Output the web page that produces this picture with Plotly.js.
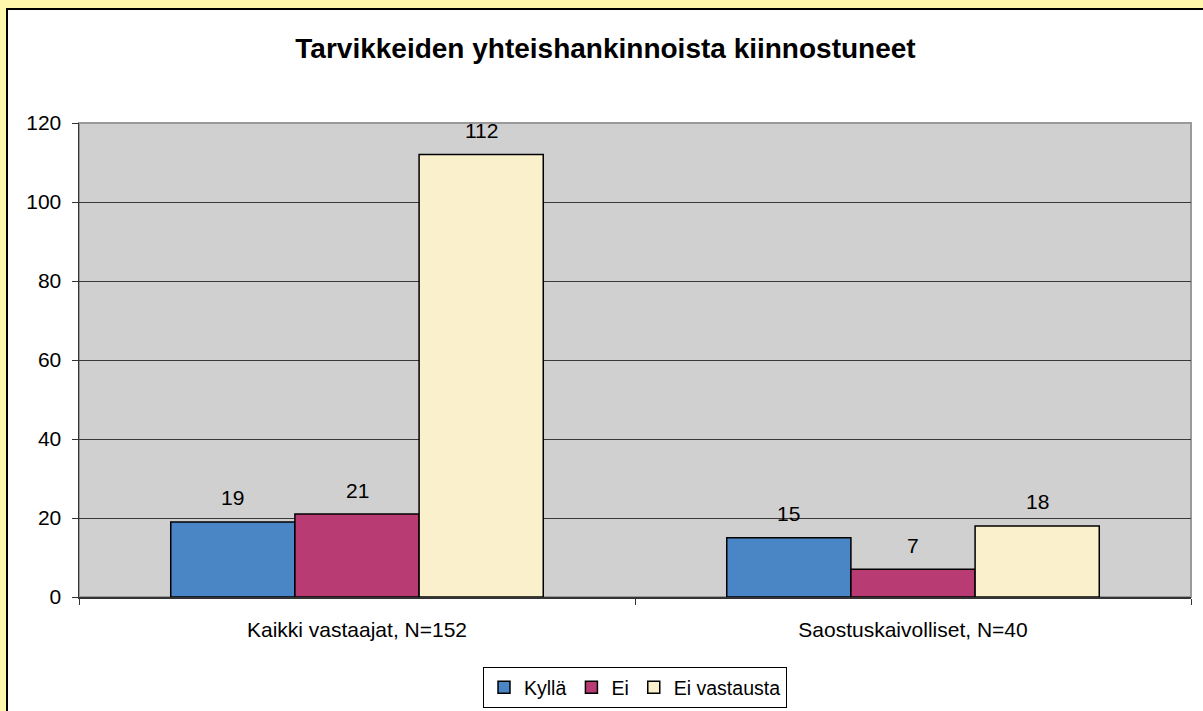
<!DOCTYPE html>
<html>
<head>
<meta charset="utf-8">
<script src="https://cdn.plot.ly/plotly-3.0.1.min.js"></script>
<style>
  html, body { margin: 0; padding: 0; background: #FFF7AC; width: 1203px; height: 711px; overflow: hidden; }
  #frame { position: absolute; left: 6px; top: 8px; width: 1197px; height: 703px;
           border-left: 2px solid #000; border-top: 2px solid #000; background: #fff; box-sizing: border-box; }
  #chart { position: absolute; left: 0; top: 0; width: 1195px; height: 701px; }
</style>
</head>
<body>
<div id="frame"><div id="chart"></div></div>
<script>
const categories = ["Kaikki vastaajat, N=152", "Saostuskaivolliset, N=40"];
const seriesNames = ["Kyllä", "Ei", "Ei vastausta"];
const kylla = [19, 15];
const ei = [21, 7];
const eiVastausta = [112, 18];
const seriesValues = [kylla, ei, eiVastausta];
const colors = ["#4A86C6", "#B83B74", "#FAF1CC"];
const yTicks = [0, 20, 40, 60, 80, 100, 120];

const FONT = "Liberation Sans, Arial, sans-serif";
const bargap = 0.33;
const nSeries = seriesValues.length;
const barW = (1 - bargap) / nSeries;

const traces = seriesValues.map((vals, i) => ({
  type: "bar",
  name: seriesNames[i],
  x: categories,
  y: vals,
  marker: { color: colors[i], line: { color: "#000", width: 1.5 } },
  hoverinfo: "skip"
}));

const annotations = [];
seriesValues.forEach((vals, i) => {
  vals.forEach((v, c) => {
    annotations.push({
      xref: "x", yref: "y",
      x: c + (i - (nSeries - 1) / 2) * barW,
      y: v,
      text: String(v),
      showarrow: false,
      yanchor: "middle",
      yshift: 24,
      font: { family: FONT, size: 21, color: "#000" }
    });
  });
});

const layout = {
  width: 1195, height: 701,
  paper_bgcolor: "#fff",
  plot_bgcolor: "#D0D0D0",
  margin: { l: 71, r: 12, t: 113, b: 114, autoexpand: false },
  barmode: "group",
  bargap: bargap,
  bargroupgap: 0,
  title: { text: "<b>Tarvikkeiden yhteishankinnoista kiinnostuneet</b>",
           font: { family: FONT, size: 28, color: "#000" },
           x: 0.5, xanchor: "center", y: 1 - 38 / 701, yanchor: "middle" },
  font: { family: FONT, size: 21, color: "#000" },
  xaxis: {
    type: "category",
    showline: true, linecolor: "#333", linewidth: 1.5,
    ticks: "outside", tickson: "boundaries", ticklen: 6, tickcolor: "#333",
    ticklabelstandoff: 13,
    showgrid: false, zeroline: false, automargin: false,
    tickfont: { family: FONT, size: 21, color: "#000" }
  },
  yaxis: {
    range: [0, 120],
    tickvals: yTicks,
    ticktext: yTicks.map(String),
    showline: true, linecolor: "#333", linewidth: 1.5,
    ticks: "outside", ticklen: 6, tickcolor: "#333",
    ticklabelstandoff: 6,
    showgrid: true, gridcolor: "#3a3a3a", gridwidth: 1,
    zeroline: false, automargin: false,
    tickfont: { family: FONT, size: 21, color: "#000" }
  },
  showlegend: true,
  legend: {
    orientation: "h",
    x: 0.5, xanchor: "center",
    y: -0.148, yanchor: "top",
    bgcolor: "#fff", bordercolor: "#000", borderwidth: 1,
    font: { family: FONT, size: 19.5, color: "#000" },
    itemwidth: 30,
    traceorder: "normal"
  },
  annotations: annotations,
  shapes: [{
    type: "rect", xref: "paper", yref: "paper", x0: 0, x1: 1, y0: 0, y1: 1,
    line: { color: "#9a9a9a", width: 2 }, layer: "below"
  }]
};

Plotly.newPlot("chart", traces, layout, { displayModeBar: false, staticPlot: true });
</script>
</body>
</html>
